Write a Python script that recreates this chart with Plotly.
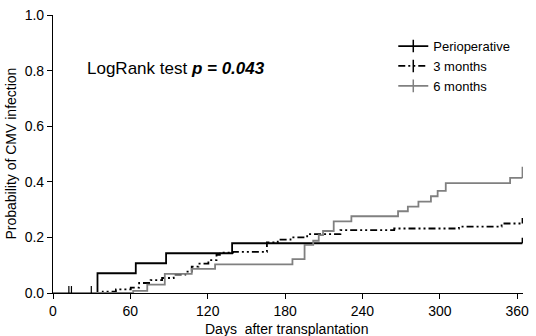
import plotly.graph_objects as go

# ---- data ----
peri_days = [0, 34.5, 64.2, 87.7, 138.9, 364]
peri_prob = [0, 0.071, 0.107, 0.143, 0.179, 0.179]
peri_censor_days = [12.3, 14.3, 29.7]
peri_end_tick = 0.02

m3_days = [0, 38.6, 48.8, 60.3, 66.8, 75.7, 84.6, 93.6, 102.6, 107.6, 112.8, 120.5,
           126.8, 129.4, 139.6, 165.9, 174.3, 184.2, 197.1, 222.9, 264.6, 314.8, 347.9, 364]
m3_prob = [0, 0.005, 0.013, 0.019, 0.036, 0.046, 0.054, 0.066, 0.077, 0.095, 0.106, 0.118,
           0.137, 0.145, 0.148, 0.182, 0.192, 0.200, 0.212, 0.226, 0.232, 0.239, 0.250, 0.250]
m3_end_tick = 0.02

m6_days = [0, 62.2, 73.1, 86.7, 107.6, 125.7, 185.7, 195.1, 201.8, 206.1, 209.4, 217.7, 231.4,
           267.6, 275.2, 283.4, 293.1, 298.3, 304.6, 354.5, 364]
m6_prob = [0, 0.008, 0.03, 0.069, 0.087, 0.103, 0.122, 0.173, 0.188, 0.208, 0.223, 0.258, 0.276,
           0.294, 0.311, 0.329, 0.348, 0.367, 0.395, 0.414, 0.414]
m6_end_tick = 0.04

x_ticks = [0, 60, 120, 180, 240, 300, 360]
y_ticks = [0.0, 0.2, 0.4, 0.6, 0.8, 1.0]
y_tick_text = ["0.0", "0.2", "0.4", "0.6", "0.8", "1.0"]

names = ["Perioperative", "3 months", "6 months"]

BLACK = "#000000"
GRAY = "#808080"
DASH = "7px,3px,2px,3px,2px,3px"
FONT = "Liberation Sans, Arial"

fig = go.Figure()

series = [
    (peri_days, peri_prob, peri_end_tick, BLACK, "solid"),
    (m3_days, m3_prob, m3_end_tick, BLACK, DASH),
    (m6_days, m6_prob, m6_end_tick, GRAY, "solid"),
]

for (d, p, tk, col, dash), nm in zip(series, names):
    fig.add_trace(go.Scatter(x=d, y=p, mode="lines", line=dict(color=col, width=1.8, dash=dash, shape="hv"),
                             showlegend=False, hoverinfo="skip"))
    # end censor tick (vertical segment up from last value)
    fig.add_trace(go.Scatter(x=[d[-1], d[-1]], y=[p[-1], p[-1] + tk], mode="lines",
                             line=dict(color=col, width=1.5), showlegend=False, hoverinfo="skip"))

# early censor ticks on baseline
for cd in peri_censor_days:
    fig.add_trace(go.Scatter(x=[cd, cd], y=[0, 0.025], mode="lines",
                             line=dict(color=BLACK, width=1.2), showlegend=False, hoverinfo="skip"))

# legend entries
for (d, p, tk, col, dash), nm in zip(series, names):
    fig.add_trace(go.Scatter(x=[None], y=[None], mode="lines+markers", name=nm,
                             line=dict(color=col, width=1.8, dash=dash),
                             marker=dict(symbol="line-ns", size=9, line=dict(color=col, width=1.5))))

fig.add_annotation(x=0.068, y=0.806, xref="paper", yref="paper", xanchor="left", yanchor="middle",
                   text="LogRank test <b><i>p = 0.043</i></b>", showarrow=False,
                   font=dict(family=FONT, size=17, color="black"))

fig.add_annotation(x=0.497, y=-0.093, xref="paper", yref="paper", xanchor="center", yanchor="top",
                   text="Days  after transplantation", showarrow=False,
                   font=dict(family=FONT, size=14, color="black"))
fig.add_annotation(x=-0.069, y=0.5, xref="paper", yref="paper", xanchor="right", yanchor="middle",
                   text="Probability of CMV infection", showarrow=False, textangle=-90,
                   font=dict(family=FONT, size=14, color="black"))

fig.update_layout(
    width=536, height=336,
    margin=dict(l=53, r=8, t=7, b=43),
    paper_bgcolor="white", plot_bgcolor="white",
    font=dict(family=FONT, size=14, color="black"),
    legend=dict(x=0.724, y=0.942, xanchor="left", yanchor="top", bgcolor="rgba(0,0,0,0)",
                font=dict(size=13), tracegroupgap=0, itemwidth=30),
    xaxis=dict(range=[0, 364.5], tickvals=x_ticks, showgrid=False, zeroline=False,
               showline=True, linecolor="black", linewidth=1.2, ticks="outside", ticklen=5,
               tickcolor="black", tickfont=dict(size=14), ticklabeloverflow="allow"),
    yaxis=dict(range=[0, 1.0], tickvals=y_ticks, ticktext=y_tick_text, showgrid=False, zeroline=False,
               showline=True, linecolor="black", linewidth=1.2, ticks="outside", ticklen=5,
               tickcolor="black", tickfont=dict(size=14), ticklabeloverflow="allow"),
)

fig.write_html("out.html", config={"displayModeBar": False},
               post_script="document.body.style.margin='0';document.body.style.overflow='hidden';")
